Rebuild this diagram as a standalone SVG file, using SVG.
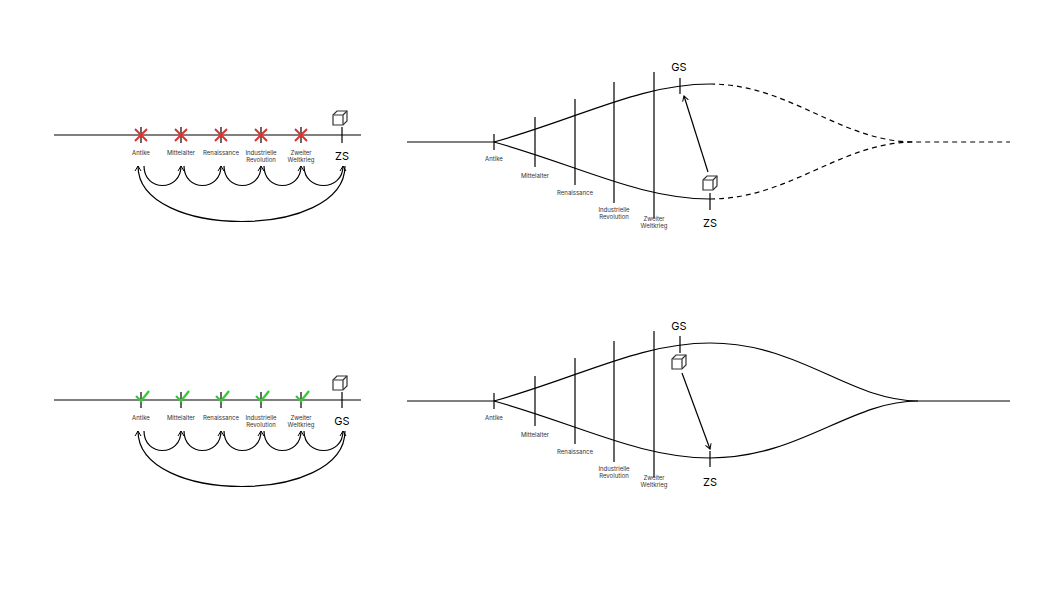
<svg xmlns="http://www.w3.org/2000/svg" width="1055" height="591" viewBox="0 0 1055 591">
<style>
.l{stroke:#000;stroke-width:1.2;fill:none}
.d{stroke:#000;stroke-width:1.2;fill:none;stroke-dasharray:5,4}
.x{stroke:#e03030;stroke-width:2;fill:none}
.c{stroke:#33cc33;stroke-width:2.2;fill:none}
.s{font-family:Inter,"Liberation Sans",sans-serif;font-size:6px;fill:#333;text-anchor:middle}
.b{font-family:Inter,"Liberation Sans",sans-serif;font-size:11px;fill:#000;text-anchor:middle}
.cube{stroke:#333;stroke-width:1.2;fill:#fff}
</style>
<defs>
<marker id="a" markerWidth="8" markerHeight="8" refX="6" refY="4" orient="auto" markerUnits="userSpaceOnUse"><path d="M1,1 L6,4 L1,7" fill="none" stroke="#000" stroke-width="1"/></marker>
<g id="cb"><path class="cube" d="M0,4 L4,0 L14,0 L14,10 L10,14 L0,14 Z"/><path class="cube" d="M0,4 L10,4 L10,14 M10,4 L14,0"/></g>
</defs>
<g id="timeline-zs">
<line class="l" x1="54" y1="135" x2="361" y2="135"/>
<g class="l"><line x1="141" y1="127" x2="141" y2="143"/><line x1="181" y1="127" x2="181" y2="143"/><line x1="221" y1="127" x2="221" y2="143"/><line x1="261" y1="127" x2="261" y2="143"/><line x1="301" y1="127" x2="301" y2="143"/><line x1="342" y1="127" x2="342" y2="143"/></g>
<g class="x"><path d="M135,129 L147,141 M147,129 L135,141"/><path d="M175,129 L187,141 M187,129 L175,141"/><path d="M215,129 L227,141 M227,129 L215,141"/><path d="M255,129 L267,141 M267,129 L255,141"/><path d="M295,129 L307,141 M307,129 L295,141"/></g>
<use href="#cb" x="333" y="111"/>
<text class="s" x="141" y="155">Antike</text><text class="s" x="181" y="155">Mittelalter</text><text class="s" x="221" y="155">Renaissance</text><text class="s" x="261" y="155">Industrielle</text><text class="s" x="261" y="162">Revolution</text><text class="s" x="301" y="155">Zweiter</text><text class="s" x="301" y="162">Weltkrieg</text>
<text class="b" x="342" y="160">ZS</text>
</g>
<g id="loops-zs">
<path class="l" marker-end="url(#a)" d="M144,166 C144,192 181,192 181,166"/>
<path class="l" marker-end="url(#a)" d="M184,166 C184,192 221,192 221,166"/>
<path class="l" marker-end="url(#a)" d="M224,166 C224,192 261,192 261,166"/>
<path class="l" marker-end="url(#a)" d="M264,166 C264,192 301,192 301,166"/>
<path class="l" marker-end="url(#a)" d="M304,166 C304,192 343,192 343,166"/>
<path class="l" marker-end="url(#a)" d="M345,166 C345,240 138,240 138,166"/>
</g>
<g id="timeline-gs">
<line class="l" x1="54" y1="400" x2="361" y2="400"/>
<g class="l"><line x1="141" y1="392" x2="141" y2="408"/><line x1="181" y1="392" x2="181" y2="408"/><line x1="221" y1="392" x2="221" y2="408"/><line x1="261" y1="392" x2="261" y2="408"/><line x1="301" y1="392" x2="301" y2="408"/><line x1="342" y1="392" x2="342" y2="408"/></g>
<g class="c"><path d="M136,396 L141,401 L149,391"/><path d="M176,396 L181,401 L189,391"/><path d="M216,396 L221,401 L229,391"/><path d="M256,396 L261,401 L269,391"/><path d="M296,396 L301,401 L309,391"/></g>
<use href="#cb" x="333" y="376"/>
<text class="s" x="141" y="420">Antike</text><text class="s" x="181" y="420">Mittelalter</text><text class="s" x="221" y="420">Renaissance</text><text class="s" x="261" y="420">Industrielle</text><text class="s" x="261" y="427">Revolution</text><text class="s" x="301" y="420">Zweiter</text><text class="s" x="301" y="427">Weltkrieg</text>
<text class="b" x="342" y="425">GS</text>
</g>
<g id="loops-gs">
<path class="l" marker-end="url(#a)" d="M144,431 C144,457 181,457 181,431"/>
<path class="l" marker-end="url(#a)" d="M184,431 C184,457 221,457 221,431"/>
<path class="l" marker-end="url(#a)" d="M224,431 C224,457 261,457 261,431"/>
<path class="l" marker-end="url(#a)" d="M264,431 C264,457 301,457 301,431"/>
<path class="l" marker-end="url(#a)" d="M304,431 C304,457 343,457 343,431"/>
<path class="l" marker-end="url(#a)" d="M345,431 C345,505 138,505 138,431"/>
</g>
<g id="fan-top">
<line class="l" x1="407" y1="142" x2="494" y2="142"/>
<line class="l" x1="494" y1="134" x2="494" y2="150"/>
<path class="l" d="M494,142 C580,118 640,84 710,84"/>
<path class="l" d="M494,142 C580,166 640,199 710,199"/>
<path class="d" d="M710,84 C790,84 840,142 915,142 L1010,142"/>
<path class="d" d="M710,199 C790,199 840,142 915,142"/>
<g class="l"><line x1="535" y1="117" x2="535" y2="167"/><line x1="575" y1="99" x2="575" y2="185"/><line x1="614" y1="82" x2="614" y2="203"/><line x1="654" y1="72" x2="654" y2="218"/><line x1="680" y1="78" x2="680" y2="94"/><line x1="710" y1="193" x2="710" y2="210"/></g>
<text class="s" x="494" y="161">Antike</text><text class="s" x="535" y="178">Mittelalter</text><text class="s" x="575" y="195">Renaissance</text><text class="s" x="614" y="212">Industrielle</text><text class="s" x="614" y="219">Revolution</text><text class="s" x="654" y="221">Zweiter</text><text class="s" x="654" y="228">Weltkrieg</text>
<text class="b" x="679" y="71">GS</text><text class="b" x="710" y="227">ZS</text>
<use href="#cb" x="703" y="176"/>
<line class="l" marker-end="url(#a)" x1="708" y1="172" x2="684" y2="96"/>
</g>
<g id="fan-bottom">
<line class="l" x1="407" y1="401" x2="494" y2="401"/>
<line class="l" x1="494" y1="393" x2="494" y2="409"/>
<path class="l" d="M494,401 C580,377 640,343 710,343 C800,343 850,401 918,401 L1010,401"/>
<path class="l" d="M494,401 C580,425 640,458 710,458 C800,458 850,401 918,401"/>
<g class="l"><line x1="535" y1="376" x2="535" y2="426"/><line x1="575" y1="358" x2="575" y2="444"/><line x1="614" y1="341" x2="614" y2="462"/><line x1="654" y1="331" x2="654" y2="477"/><line x1="680" y1="336" x2="680" y2="353"/><line x1="710" y1="451" x2="710" y2="467"/></g>
<text class="s" x="494" y="420">Antike</text><text class="s" x="535" y="437">Mittelalter</text><text class="s" x="575" y="454">Renaissance</text><text class="s" x="614" y="471">Industrielle</text><text class="s" x="614" y="478">Revolution</text><text class="s" x="654" y="480">Zweiter</text><text class="s" x="654" y="487">Weltkrieg</text>
<text class="b" x="679" y="330">GS</text><text class="b" x="710" y="486">ZS</text>
<use href="#cb" x="672" y="355"/>
<line class="l" marker-end="url(#a)" x1="682" y1="373" x2="710" y2="449"/>
</g>
</svg>
